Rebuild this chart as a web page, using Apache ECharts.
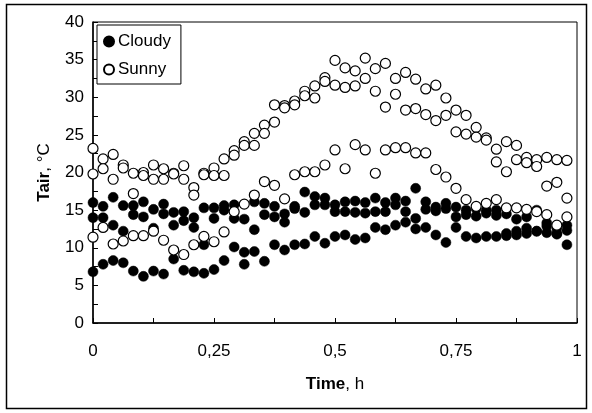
<!DOCTYPE html>
<html>
<head>
<meta charset="utf-8">
<script src="https://cdn.jsdelivr.net/npm/echarts@6/dist/echarts.min.js"></script>
<style>
html,body{margin:0;padding:0;background:#fff;}
#chart{width:592px;height:413px;}
</style>
</head>
<body>
<div id="chart"></div>
<script>
// half-hourly slots over one day (fraction of the day)
const slotsPerDay = 48;
const xTicks = ['0', '0,25', '0,5', '0,75', '1'];
const yTicks = ['0', '5', '10', '15', '20', '25', '30', '35', '40'];

// Cloudy days (air temperature, °C)
const cloudyDay1 = [16.0,15.5,16.7,15.6,15.6,16.1,15.1,15.8,14.7,14.8,14.0,15.3,15.3,15.6,15.7,13.8,16.1,15.9,15.5,14.5,15.5,17.4,16.8,16.6,15.7,16.1,16.2,16.0,16.6,16.0,16.6,16.2,17.9,16.1,15.4,15.9,15.4,15.0,15.2,15.0,15.0,14.5,13.8,14.1,15.0,13.3,12.6,13.0];
const cloudyDay2 = [14.0,14.0,13.0,12.2,14.4,14.1,12.6,14.5,13.0,13.6,12.7,10.4,13.9,15.0,13.9,9.4,12.4,14.4,14.1,13.4,15.2,14.7,15.7,15.7,14.8,14.8,14.7,14.6,14.8,14.8,15.7,14.8,13.9,15.1,14.9,15.2,14.1,14.4,14.2,14.6,14.3,11.9,12.2,12.6,12.2,12.9,11.9,12.3];
const cloudyDay3 = [6.8,7.8,8.3,8.0,6.9,6.2,6.9,6.5,8.5,7.0,6.8,6.6,7.1,8.3,10.1,7.8,9.5,8.2,10.4,9.7,10.4,10.5,11.5,10.6,11.5,11.7,11.1,11.3,12.7,12.4,13.0,13.4,12.5,12.7,11.7,10.7,12.7,11.5,11.3,11.5,11.5,11.6,11.7,11.9,12.2,12.0,11.8,10.4];

// Sunny days (air temperature, °C)
const sunnyDay1 = [23.2,21.8,22.4,21.0,19.9,20.0,21.0,20.5,19.9,20.9,18.0,19.9,20.6,21.8,22.9,24.1,25.2,26.3,29.0,28.9,29.5,30.8,31.5,32.6,34.9,33.9,33.5,35.2,33.8,34.5,32.5,33.3,32.4,31.1,31.6,29.9,28.3,27.6,26.0,24.6,23.1,24.1,23.6,22.0,21.7,22.0,21.7,21.6];
const sunnyDay2 = [19.8,20.5,19.1,20.6,17.2,19.6,19.1,19.1,19.8,19.1,17.0,19.7,19.6,19.6,22.3,23.6,23.6,25.2,26.7,28.6,29.0,30.2,29.9,32.1,31.6,31.3,31.5,32.5,30.8,28.7,30.4,28.3,28.5,27.7,26.9,27.6,25.4,25.1,24.7,24.3,21.4,20.1,21.7,21.3,20.8,18.2,18.7,16.6];
const sunnyDay3 = [11.4,12.7,10.5,10.9,11.6,11.6,12.2,11.0,9.7,9.1,10.4,11.5,10.8,12.1,14.8,15.8,17.0,18.8,18.3,16.5,19.7,20.1,20.1,21.0,23.0,20.5,23.7,23.0,19.9,23.0,23.3,23.3,22.6,22.6,20.4,19.4,17.9,16.4,15.5,15.9,16.4,15.3,15.3,15.1,14.8,14.4,13.0,14.1];

const seriesNames = ['Cloudy', 'Sunny'];

function toPoints(days) {
  const pts = [];
  days.forEach(function (day) {
    day.forEach(function (v, i) {
      if (v !== null) pts.push([i / slotsPerDay, v]);
    });
  });
  return pts;
}

const FONT = 'Liberation Sans, Arial, sans-serif';
const chart = echarts.init(document.getElementById('chart'), null, {renderer: 'canvas'});

chart.setOption({
  animation: false,
  backgroundColor: '#fff',
  textStyle: {fontFamily: FONT},
  graphic: [{
    type: 'rect',
    shape: {x: 6.5, y: 4.5, width: 580, height: 404},
    style: {fill: 'none', stroke: '#000', lineWidth: 1.5},
    silent: true,
    z: -10
  }],
  grid: {
    left: 93, top: 22, right: 15, bottom: 90,
    show: true, borderColor: '#000', borderWidth: 1, backgroundColor: '#fff'
  },
  legend: {
    data: seriesNames,
    orient: 'vertical',
    left: 97, top: 25,
    padding: [8, 10, 6, 6],
    itemGap: 11,
    itemWidth: 10, itemHeight: 10,
    backgroundColor: '#fff',
    borderColor: '#000', borderWidth: 1, borderRadius: 0,
    textStyle: {fontFamily: FONT, fontSize: 17, color: '#000', padding: [0, 0, 0, -1]},
    selectedMode: false
  },
  xAxis: {
    type: 'value', min: 0, max: 1, interval: 0.125,
    name: '{b|Time}, h',
    nameLocation: 'middle', nameGap: 53,
    nameTextStyle: {fontFamily: FONT, fontSize: 17, color: '#000',
      rich: {b: {fontFamily: FONT, fontSize: 17, fontWeight: 'bold', color: '#000'}}},
    axisLine: {lineStyle: {color: '#000', width: 1.5}},
    axisTick: {inside: true, length: 5, lineStyle: {color: '#000'}},
    splitLine: {show: false},
    axisLabel: {
      fontFamily: FONT, fontSize: 17, color: '#000', margin: 20,
      formatter: function (v) {
        const k = Math.round(v * 4);
        return Math.abs(v * 4 - k) < 1e-6 ? xTicks[k] : '';
      }
    }
  },
  yAxis: {
    type: 'value', min: 0, max: 40, interval: 2.5,
    name: '{b|Tair}, °C',
    nameLocation: 'middle', nameGap: 40,
    nameTextStyle: {fontFamily: FONT, fontSize: 17, color: '#000',
      rich: {b: {fontFamily: FONT, fontSize: 17, fontWeight: 'bold', color: '#000'}}},
    axisLine: {show: true, lineStyle: {color: '#000', width: 1.5}},
    axisTick: {show: true, inside: true, length: 5, lineStyle: {color: '#000'}},
    splitLine: {show: false},
    axisLabel: {
      fontFamily: FONT, fontSize: 17, color: '#000', margin: 9,
      formatter: function (v) {
        const k = Math.round(v / 5);
        return Math.abs(v / 5 - k) < 1e-6 ? yTicks[k] : '';
      }
    }
  },
  series: [
    {
      name: 'Cloudy', type: 'scatter', symbol: 'circle', symbolSize: 10,
      itemStyle: {color: '#000', borderColor: '#000', borderWidth: 0.5, opacity: 1},
      data: toPoints([cloudyDay1, cloudyDay2, cloudyDay3]),
      z: 2
    },
    {
      name: 'Sunny', type: 'scatter', symbol: 'circle', symbolSize: 10,
      itemStyle: {color: '#fff', borderColor: '#000', borderWidth: 1.2, opacity: 1},
      data: toPoints([sunnyDay1, sunnyDay2, sunnyDay3]),
      z: 3
    }
  ]
});
</script>
</body>
</html>
